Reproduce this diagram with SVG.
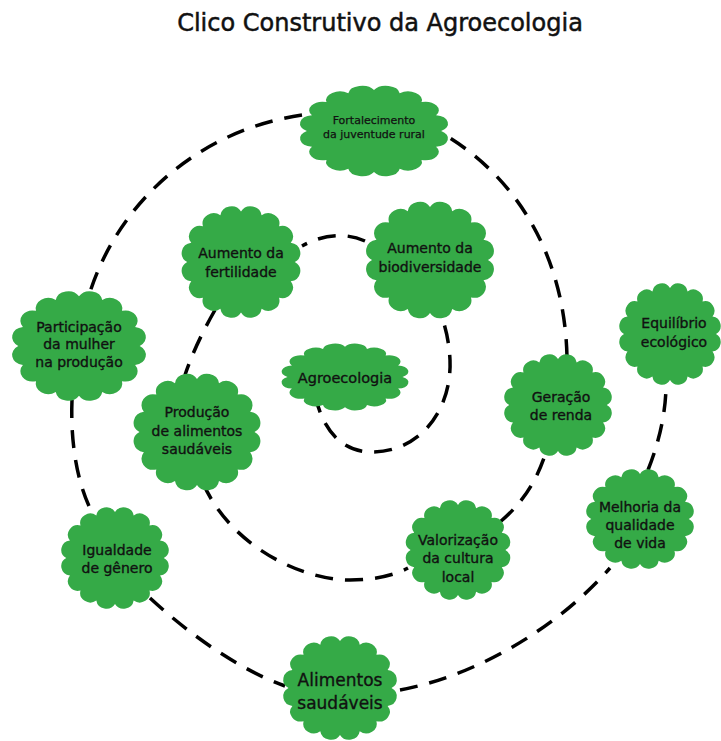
<svg xmlns="http://www.w3.org/2000/svg" xmlns:xlink="http://www.w3.org/1999/xlink" width="721" height="741" viewBox="0 0 721 741">
<style>
.cloud{fill:#35aa47;}
.t{font-family:"DejaVu Sans","Liberation Sans",sans-serif;font-size:14px;fill:#111;stroke:#111;stroke-width:0.35;text-anchor:middle;}
.title{font-family:"DejaVu Sans","Liberation Sans",sans-serif;font-size:24px;fill:#111;stroke:#111;stroke-width:0.5;text-anchor:middle;}
.con{fill:none;stroke:#000;stroke-width:3.5;stroke-dasharray:18 12;}
</style>
<defs>
<path id="cloud" d="M46,0 A9.5,9.5 0 0 1 42.5,17.6 A9.5,9.5 0 0 1 32.53,32.53 A9.5,9.5 0 0 1 17.6,42.5 A9.5,9.5 0 0 1 0,46 A9.5,9.5 0 0 1 -17.6,42.5 A9.5,9.5 0 0 1 -32.53,32.53 A9.5,9.5 0 0 1 -42.5,17.6 A9.5,9.5 0 0 1 -46,0 A9.5,9.5 0 0 1 -42.5,-17.6 A9.5,9.5 0 0 1 -32.53,-32.53 A9.5,9.5 0 0 1 -17.6,-42.5 A9.5,9.5 0 0 1 0,-46 A9.5,9.5 0 0 1 17.6,-42.5 A9.5,9.5 0 0 1 32.53,-32.53 A9.5,9.5 0 0 1 42.5,-17.6 A9.5,9.5 0 0 1 46,0 Z"/>
</defs>
<rect width="721" height="741" fill="#fff"/>
<text class="title" x="380" y="31">Clico Construtivo da Agroecologia</text>
<g id="connectors">
<path class="con" d="M315,395 C325,440 350,452 372,452 C420,452 452,410 450,360 C449,340 445,325 440,312"/>
<path class="con" d="M365,241 Q335,228 302,246"/>
<path class="con" d="M215,310 Q195,345 185,375"/>
<path class="con" d="M203,483 C230,545 300,580 350,580 C375,580 395,575 408,568"/>
<path class="con" d="M500,522 C520,505 535,485 545,455"/>
<path class="con" d="M567,357 C565,260 520,180 445,135"/>
<path class="con" d="M302,115 C200,130 120,200 90,292"/>
<path class="con" d="M72,400 C70,450 80,490 92,512"/>
<path class="con" d="M150,598 C190,635 240,670 285,686"/>
<path class="con" d="M400,690 C480,675 560,625 610,568"/>
<path class="con" d="M648,470 C660,440 666,410 666,385"/>
</g>
<g id="n-fortalecimento">
<use xlink:href="#cloud" class="cloud" transform="translate(374,131) scale(1.46,0.89)"/>
<text class="t" style="font-size:11px;stroke-width:0.25" x="374" y="124">Fortalecimento</text>
<text class="t" style="font-size:11px;stroke-width:0.25" x="374" y="138">da juventude rural</text>
</g>
<g id="n-fertilidade">
<use xlink:href="#cloud" class="cloud" transform="translate(241,262) scale(1.17,1.1)"/>
<text class="t" x="241" y="258">Aumento da</text>
<text class="t" x="241" y="277">fertilidade</text>
</g>
<g id="n-biodiversidade">
<use xlink:href="#cloud" class="cloud" transform="translate(430,260) scale(1.26,1.15)"/>
<text class="t" x="430" y="253">Aumento da</text>
<text class="t" x="430" y="272">biodiversidade</text>
</g>
<g id="n-agroecologia">
<use xlink:href="#cloud" class="cloud" transform="translate(345,377) scale(1.25,0.66)"/>
<text class="t" style="font-size:14.5px" x="345" y="383">Agroecologia</text>
</g>
<g id="n-participacao">
<use xlink:href="#cloud" class="cloud" transform="translate(79,346) scale(1.32,1.08)"/>
<text class="t" x="79" y="332">Participação</text>
<text class="t" x="79" y="349">da mulher</text>
<text class="t" x="79" y="367">na produção</text>
</g>
<g id="n-equilibrio">
<use xlink:href="#cloud" class="cloud" transform="translate(670,334) scale(1.0,1.0)"/>
<text class="t" x="674" y="328">Equilíbrio</text>
<text class="t" x="674" y="347">ecológico</text>
</g>
<g id="n-producao">
<use xlink:href="#cloud" class="cloud" transform="translate(197,432) scale(1.25,1.15)"/>
<text class="t" x="197" y="417">Produção</text>
<text class="t" x="197" y="436">de alimentos</text>
<text class="t" x="197" y="454">saudáveis</text>
</g>
<g id="n-geracao">
<use xlink:href="#cloud" class="cloud" transform="translate(558,405) scale(1.06,1.0)"/>
<text class="t" x="561" y="402">Geração</text>
<text class="t" x="561" y="420">de renda</text>
</g>
<g id="n-melhoria">
<use xlink:href="#cloud" class="cloud" transform="translate(640,519) scale(1.06,0.98)"/>
<text class="t" x="640" y="512">Melhoria da</text>
<text class="t" x="640" y="530">qualidade</text>
<text class="t" x="640" y="548">de vida</text>
</g>
<g id="n-valorizacao">
<use xlink:href="#cloud" class="cloud" transform="translate(458,550) scale(1.03,0.98)"/>
<text class="t" x="458" y="545">Valorização</text>
<text class="t" x="458" y="563">da cultura</text>
<text class="t" x="458" y="582">local</text>
</g>
<g id="n-igualdade">
<use xlink:href="#cloud" class="cloud" transform="translate(115,558) scale(1.06,1.0)"/>
<text class="t" x="117" y="555">Igualdade</text>
<text class="t" x="117" y="573">de gênero</text>
</g>
<g id="n-alimentos">
<use xlink:href="#cloud" class="cloud" transform="translate(340,688) scale(1.12,1.02)"/>
<text class="t" style="font-size:17px" x="340" y="686">Alimentos</text>
<text class="t" style="font-size:17px" x="340" y="709">saudáveis</text>
</g>
</svg>
